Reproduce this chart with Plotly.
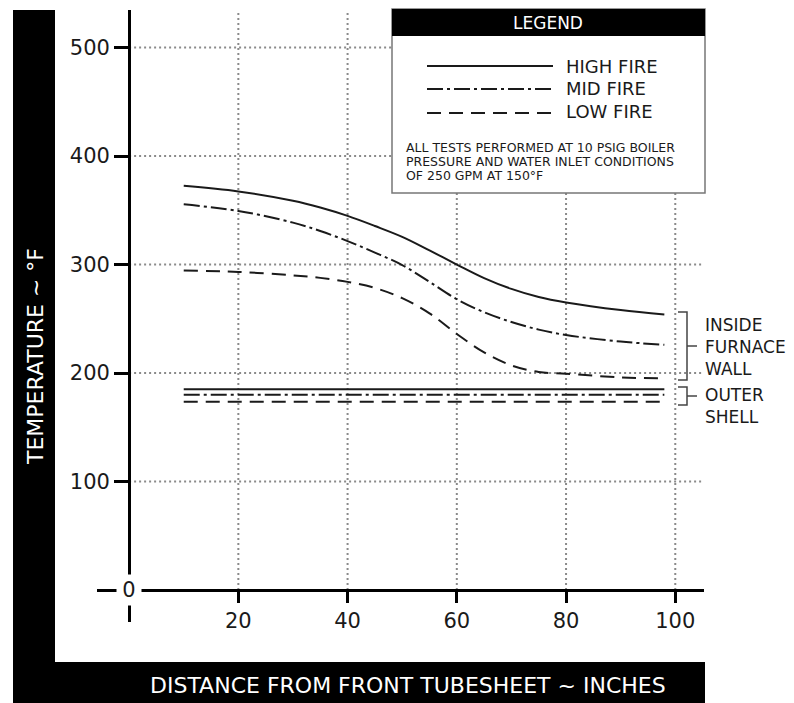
import plotly.graph_objects as go

# ---------------- data ----------------
distance = [10, 20, 30, 35, 40, 45, 50, 55, 60, 65, 70, 75, 80, 90, 98]
high_fire = [372.5, 367.3, 358.7, 352.5, 344.8, 335.5, 325.5, 313, 300, 287.5, 277.5, 270, 265, 258, 254]
mid_fire = [355.5, 349.4, 338.6, 330.9, 321.6, 311, 299.5, 284, 268, 256, 247, 240, 235, 229, 226]
low_fire = [294.5, 293.2, 290, 287.7, 284, 278.4, 269, 255, 236, 219, 207, 201, 199.3, 196, 195]

shell_distance = [10, 98]
shell_high = [185, 185]
shell_mid = [180, 180]
shell_low = [173.5, 173.5]

x_ticks = [20, 40, 60, 80, 100]
y_ticks = [100, 200, 300, 400, 500]

series_names = ["HIGH FIRE", "MID FIRE", "LOW FIRE"]
note_lines = ["ALL TESTS PERFORMED AT 10 PSIG BOILER",
              "PRESSURE AND WATER INLET CONDITIONS",
              "OF 250 GPM AT 150°F"]
bracket_labels = ["INSIDE<br>FURNACE<br>WALL", "OUTER<br>SHELL"]

# ---------------- layout constants ----------------
W, H = 794, 703
PL, PR, PT, PB = 97, 704, 10, 622          # plot area in pixels
X_RANGE = [-5.88, 105.26]
Y_RANGE = [-29.5, 534.6]
FONT = "DejaVu Sans"
INK = "#1a1a1a"
DASHES = ["solid", "16px,4px,3px,4px", "14px,8px"]


def pxx(px):
    return (px - PL) / (PR - PL)


def pxy(py):
    return (PB - py) / (PB - PT)


def dx(px):  # pixel -> data x
    return X_RANGE[0] + (px - PL) / (PR - PL) * (X_RANGE[1] - X_RANGE[0])


def dy(py):  # pixel -> data y
    return Y_RANGE[0] + (PB - py) / (PB - PT) * (Y_RANGE[1] - Y_RANGE[0])


fig = go.Figure()

for ys, dash in zip([high_fire, mid_fire, low_fire], DASHES):
    fig.add_trace(go.Scatter(x=distance, y=ys, mode="lines",
                             line=dict(color=INK, width=2, dash=dash, shape="spline", smoothing=1),
                             hoverinfo="skip", showlegend=False))

for ys, dash in zip([shell_high, shell_mid, shell_low], DASHES):
    fig.add_trace(go.Scatter(x=shell_distance, y=ys, mode="lines",
                             line=dict(color=INK, width=2, dash=dash),
                             hoverinfo="skip", showlegend=False))

shapes = []
grid_line = dict(color="#8a8a8a", width=2, dash="2px,3px")
for xv in x_ticks:
    shapes.append(dict(type="line", xref="x", yref="y", x0=xv, x1=xv, y0=0, y1=Y_RANGE[1],
                       line=grid_line, layer="below"))
for yv in y_ticks:
    shapes.append(dict(type="line", xref="x", yref="y", x0=0, x1=104.9, y0=yv, y1=yv,
                       line=grid_line, layer="below"))

# black frame bars
shapes.append(dict(type="rect", xref="paper", yref="paper", x0=pxx(13), x1=pxx(55), y0=pxy(703), y1=pxy(10),
                   fillcolor="black", line=dict(width=0), layer="above"))
shapes.append(dict(type="rect", xref="paper", yref="paper", x0=pxx(13), x1=pxx(705), y0=pxy(703), y1=pxy(662),
                   fillcolor="black", line=dict(width=0), layer="above"))

# legend box
shapes.append(dict(type="rect", xref="paper", yref="paper", x0=pxx(392), x1=pxx(705), y0=pxy(193), y1=pxy(9),
                   fillcolor="white", line=dict(color="#777", width=1.5), layer="above"))
shapes.append(dict(type="rect", xref="paper", yref="paper", x0=pxx(392), x1=pxx(705), y0=pxy(36), y1=pxy(9),
                   fillcolor="black", line=dict(width=0), layer="above"))
for yy, dash in zip([66, 89, 113], DASHES):
    shapes.append(dict(type="line", xref="paper", yref="paper", x0=pxx(427), x1=pxx(553), y0=pxy(yy), y1=pxy(yy),
                       line=dict(color=INK, width=2, dash=dash), layer="above"))

# brackets
br = dict(color="#444", width=1.5)
for top, bot in [(312, 380), (387, 405)]:
    mid = (top + bot) / 2
    shapes.append(dict(type="path", xref="x", yref="y",
                       path=f"M {dx(678)},{dy(top)} L {dx(687)},{dy(top)} L {dx(687)},{dy(bot)} L {dx(678)},{dy(bot)}",
                       line=br, layer="above"))
    shapes.append(dict(type="line", xref="x", yref="y", x0=dx(687), x1=dx(697), y0=dy(mid), y1=dy(mid),
                       line=br, layer="above"))

ann = []
# origin label
ann.append(dict(x=0, y=0, xref="x", yref="y", text="0", showarrow=False, bgcolor="white",
                xanchor="center", yanchor="middle",
                width=22, height=28, font=dict(family=FONT, size=21, color=INK)))
# axis titles
ann.append(dict(x=pxx(35), y=pxy(357), xref="paper", yref="paper", text="TEMPERATURE ~ °F", textangle=-90,
                xanchor="center", yanchor="middle",
                showarrow=False, font=dict(family=FONT, size=22, color="white")))
ann.append(dict(x=pxx(408), y=pxy(685), xref="paper", yref="paper",
                text="DISTANCE FROM FRONT TUBESHEET ~ INCHES", xanchor="center", yanchor="middle",
                showarrow=False, font=dict(family=FONT, size=22, color="white")))
# legend texts
ann.append(dict(x=pxx(548), y=pxy(23), xref="paper", yref="paper", text="LEGEND", showarrow=False,
                xanchor="center", yanchor="middle",
                font=dict(family=FONT, size=17, color="white")))
for yy, name in zip([66, 89, 112], series_names):
    ann.append(dict(x=pxx(564), y=pxy(yy), xref="paper", yref="paper", text=name, showarrow=False,
                    xanchor="left", yanchor="middle", font=dict(family=FONT, size=18, color=INK)))
for yy, line in zip([147, 161, 175], note_lines):
    ann.append(dict(x=pxx(404), y=pxy(yy), xref="paper", yref="paper", text=line, showarrow=False,
                    xanchor="left", yanchor="middle", font=dict(family=FONT, size=12.5, color=INK)))
# bracket labels
for yy, t in zip([347, 406], bracket_labels):
    ann.append(dict(x=pxx(703), y=pxy(yy), xref="paper", yref="paper", text=t, showarrow=False,
                    xanchor="left", yanchor="middle", align="left",
                    font=dict(family=FONT, size=17, color=INK)))

fig.update_layout(
    width=W, height=H, autosize=False,
    margin=dict(l=PL, r=W - PR, t=PT, b=H - PB, pad=0),
    paper_bgcolor="white", plot_bgcolor="white",
    showlegend=False,
    shapes=shapes, annotations=ann,
    xaxis=dict(range=X_RANGE, showgrid=False, zeroline=False, showline=True, linecolor="black", linewidth=3,
               anchor="free", position=(0 - Y_RANGE[0]) / (Y_RANGE[1] - Y_RANGE[0]),
               ticks="outside", ticklen=11, tickwidth=3, tickcolor="black",
               tickvals=x_ticks, ticktext=[str(v) for v in x_ticks],
               tickfont=dict(family=FONT, size=21, color=INK), fixedrange=True),
    yaxis=dict(range=Y_RANGE, showgrid=False, zeroline=False, showline=True, linecolor="black", linewidth=3,
               anchor="free", position=(0 - X_RANGE[0]) / (X_RANGE[1] - X_RANGE[0]),
               ticks="outside", ticklen=14, tickwidth=3, tickcolor="black",
               tickvals=y_ticks, ticktext=[str(v) for v in y_ticks],
               tickfont=dict(family=FONT, size=21, color=INK), fixedrange=True),
)

fig.write_html("out.html", config={"displayModeBar": False})
